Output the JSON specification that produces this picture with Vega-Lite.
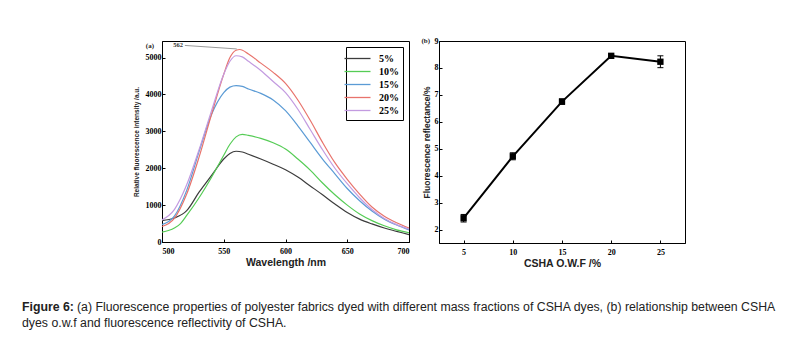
{
  "$schema": "https://vega.github.io/schema/vega-lite/v6.json",
  "background": "white",
  "padding": {"left": 22, "top": 36, "right": 5, "bottom": 5},
  "config": {
    "view": {"stroke": "black", "strokeWidth": 1},
    "axis": {
      "grid": false,
      "domainColor": "black",
      "tickColor": "black",
      "tickSize": -3,
      "labelFont": "Liberation Serif",
      "labelFontWeight": "bold",
      "labelFontSize": 8,
      "labelColor": "black",
      "labelPadding": 4,
      "labelOverlap": false,
      "titleFont": "Liberation Sans",
      "titleFontWeight": "bold",
      "titleColor": "#222222"
    },
    "axisX": {"labelPadding": 8}
  },
  "datasets": {
    "spectra": [
      {"w":500,"v":580,"s":"5%"},{"w":510,"v":650,"s":"5%"},{"w":520,"v":850,"s":"5%"},{"w":530,"v":1350,"s":"5%"},{"w":540,"v":1800,"s":"5%"},{"w":550,"v":2250,"s":"5%"},{"w":555,"v":2400,"s":"5%"},{"w":560,"v":2460,"s":"5%"},{"w":565,"v":2440,"s":"5%"},{"w":570,"v":2380,"s":"5%"},{"w":580,"v":2250,"s":"5%"},{"w":590,"v":2110,"s":"5%"},{"w":600,"v":1960,"s":"5%"},{"w":610,"v":1760,"s":"5%"},{"w":620,"v":1520,"s":"5%"},{"w":630,"v":1280,"s":"5%"},{"w":640,"v":1030,"s":"5%"},{"w":650,"v":800,"s":"5%"},{"w":660,"v":620,"s":"5%"},{"w":670,"v":490,"s":"5%"},{"w":680,"v":380,"s":"5%"},{"w":690,"v":290,"s":"5%"},{"w":700,"v":200,"s":"5%"},
      {"w":500,"v":270,"s":"10%"},{"w":510,"v":380,"s":"10%"},{"w":515,"v":500,"s":"10%"},{"w":520,"v":720,"s":"10%"},{"w":530,"v":1200,"s":"10%"},{"w":540,"v":1750,"s":"10%"},{"w":550,"v":2350,"s":"10%"},{"w":555,"v":2650,"s":"10%"},{"w":560,"v":2850,"s":"10%"},{"w":565,"v":2920,"s":"10%"},{"w":570,"v":2890,"s":"10%"},{"w":580,"v":2810,"s":"10%"},{"w":590,"v":2690,"s":"10%"},{"w":600,"v":2520,"s":"10%"},{"w":610,"v":2250,"s":"10%"},{"w":620,"v":1950,"s":"10%"},{"w":630,"v":1600,"s":"10%"},{"w":640,"v":1280,"s":"10%"},{"w":650,"v":1000,"s":"10%"},{"w":660,"v":760,"s":"10%"},{"w":670,"v":580,"s":"10%"},{"w":680,"v":440,"s":"10%"},{"w":690,"v":330,"s":"10%"},{"w":700,"v":250,"s":"10%"},
      {"w":500,"v":470,"s":"15%"},{"w":510,"v":700,"s":"15%"},{"w":520,"v":1400,"s":"15%"},{"w":530,"v":2450,"s":"15%"},{"w":540,"v":3450,"s":"15%"},{"w":550,"v":4050,"s":"15%"},{"w":555,"v":4200,"s":"15%"},{"w":560,"v":4240,"s":"15%"},{"w":565,"v":4220,"s":"15%"},{"w":570,"v":4150,"s":"15%"},{"w":580,"v":4030,"s":"15%"},{"w":590,"v":3850,"s":"15%"},{"w":600,"v":3560,"s":"15%"},{"w":610,"v":3150,"s":"15%"},{"w":620,"v":2700,"s":"15%"},{"w":630,"v":2250,"s":"15%"},{"w":640,"v":1850,"s":"15%"},{"w":650,"v":1450,"s":"15%"},{"w":660,"v":1120,"s":"15%"},{"w":670,"v":840,"s":"15%"},{"w":680,"v":620,"s":"15%"},{"w":690,"v":460,"s":"15%"},{"w":700,"v":330,"s":"15%"},
      {"w":500,"v":420,"s":"20%"},{"w":510,"v":640,"s":"20%"},{"w":520,"v":1300,"s":"20%"},{"w":530,"v":2300,"s":"20%"},{"w":540,"v":3450,"s":"20%"},{"w":550,"v":4550,"s":"20%"},{"w":555,"v":5000,"s":"20%"},{"w":560,"v":5200,"s":"20%"},{"w":563,"v":5220,"s":"20%"},{"w":570,"v":5100,"s":"20%"},{"w":580,"v":4850,"s":"20%"},{"w":590,"v":4600,"s":"20%"},{"w":600,"v":4300,"s":"20%"},{"w":610,"v":3850,"s":"20%"},{"w":620,"v":3300,"s":"20%"},{"w":630,"v":2700,"s":"20%"},{"w":640,"v":2150,"s":"20%"},{"w":650,"v":1700,"s":"20%"},{"w":660,"v":1300,"s":"20%"},{"w":670,"v":950,"s":"20%"},{"w":680,"v":700,"s":"20%"},{"w":690,"v":520,"s":"20%"},{"w":700,"v":380,"s":"20%"},
      {"w":500,"v":600,"s":"25%"},{"w":510,"v":880,"s":"25%"},{"w":520,"v":1550,"s":"25%"},{"w":530,"v":2500,"s":"25%"},{"w":540,"v":3550,"s":"25%"},{"w":550,"v":4550,"s":"25%"},{"w":555,"v":4900,"s":"25%"},{"w":560,"v":5050,"s":"25%"},{"w":565,"v":5020,"s":"25%"},{"w":570,"v":4900,"s":"25%"},{"w":580,"v":4650,"s":"25%"},{"w":590,"v":4350,"s":"25%"},{"w":600,"v":4050,"s":"25%"},{"w":610,"v":3600,"s":"25%"},{"w":620,"v":3050,"s":"25%"},{"w":630,"v":2500,"s":"25%"},{"w":640,"v":2000,"s":"25%"},{"w":650,"v":1580,"s":"25%"},{"w":660,"v":1200,"s":"25%"},{"w":670,"v":880,"s":"25%"},{"w":680,"v":640,"s":"25%"},{"w":690,"v":470,"s":"25%"},{"w":700,"v":350,"s":"25%"}
    ],
    "refl": [
      {"c":5,"r":2.42,"lo":2.28,"hi":2.56},
      {"c":10,"r":4.72,"lo":4.59,"hi":4.85},
      {"c":15,"r":6.75,"lo":6.65,"hi":6.85},
      {"c":20,"r":8.45,"lo":8.42,"hi":8.48},
      {"c":25,"r":8.23,"lo":8.01,"hi":8.45}
    ]
  },
  "resolve": {"scale": {"color": "independent"}, "legend": {"color": "independent"}},
  "vconcat": [
    {
      "resolve": {"scale": {"color": "independent"}, "legend": {"color": "independent"}},
      "hconcat": [
        {
          "width": 102,
          "height": 10,
          "view": {"stroke": null},
          "data": {"values": []},
          "mark": {"type": "point", "opacity": 0},
          "encoding": {}
        },
        {
          "width": 247,
          "height": 201,
          "layer": [
            {
              "data": {"name": "spectra"},
              "mark": {"type": "line", "interpolate": "monotone", "strokeWidth": 1.2},
              "encoding": {
                "x": {"field": "w", "type": "quantitative", "scale": {"domain": [500, 700], "nice": false},
                      "axis": {"values": [500, 550, 600, 650, 700], "title": "Wavelength /nm", "titleFontSize": 10.5, "titlePadding": 2}},
                "y": {"field": "v", "type": "quantitative", "scale": {"domain": [0, 5450], "nice": false},
                      "axis": {"values": [0, 1000, 2000, 3000, 4000, 5000], "format": "d", "title": "Relative fluorescence intensity /a.u.", "titleFontSize": 6.5, "titlePadding": 6}},
                "color": {"field": "s", "type": "nominal",
                          "scale": {"domain": ["5%", "10%", "15%", "20%", "25%"], "range": ["#3c3c3c", "#55cc55", "#5b9bd5", "#e8736c", "#c39be0"]},
                          "legend": {"orient": "top-right", "offset": 6, "title": null, "strokeColor": "black", "fillColor": "white", "padding": 4,
                                     "symbolType": "M-2,0H2", "symbolSize": 169, "symbolStrokeWidth": 1.3, "rowPadding": 0, "labelOffset": 14,
                                     "labelFont": "Liberation Serif", "labelFontSize": 10, "labelFontWeight": "bold", "labelColor": "black"}}
              }
            },
            {
              "data": {"values": [{"x": 518.5, "y": 5330, "x2": 560.5, "y2": 5235}]},
              "mark": {"type": "rule", "strokeWidth": 0.6, "color": "#555555"},
              "encoding": {
                "x": {"field": "x", "type": "quantitative"},
                "y": {"field": "y", "type": "quantitative"},
                "x2": {"field": "x2"},
                "y2": {"field": "y2"}
              }
            },
            {
              "data": {"values": [{"x": 513, "y": 5330, "t": "562"}]},
              "mark": {"type": "text", "font": "Liberation Serif", "fontSize": 6.5, "fontWeight": "bold", "color": "#333333"},
              "encoding": {
                "x": {"field": "x", "type": "quantitative"},
                "y": {"field": "y", "type": "quantitative"},
                "text": {"field": "t"}
              }
            },
            {
              "data": {"values": [{"x": 500, "y": 5310, "t": "(a)"}]},
              "mark": {"type": "text", "font": "Liberation Serif", "fontSize": 7, "fontWeight": "bold", "align": "right", "dx": -8, "color": "#222222"},
              "encoding": {
                "x": {"field": "x", "type": "quantitative"},
                "y": {"field": "y", "type": "quantitative"},
                "text": {"field": "t"}
              }
            }
          ]
        },
        {
          "width": 246,
          "height": 202,
          "data": {"name": "refl"},
          "encoding": {
            "x": {"type": "quantitative", "scale": {"domain": [2.5, 27.5], "nice": false},
                  "axis": {"values": [5, 10, 15, 20, 25], "title": "CSHA O.W.F /%", "titleFontSize": 10.5, "titlePadding": 2, "labelOverlap": false}},
            "y": {"type": "quantitative", "scale": {"domain": [1.5, 9], "nice": false, "zero": false},
                  "axis": {"values": [2, 3, 4, 5, 6, 7, 8, 9], "format": "d", "labelOverlap": false, "title": "Fluorescence reflectance/%", "titleFontSize": 8.5, "titlePadding": 3}}
          },
          "layer": [
            {
              "mark": {"type": "rule", "color": "black", "strokeWidth": 1},
              "encoding": {
                "x": {"field": "c", "type": "quantitative"},
                "y": {"field": "lo", "type": "quantitative"},
                "y2": {"field": "hi"}
              }
            },
            {
              "mark": {"type": "tick", "orient": "horizontal", "color": "black", "size": 6, "thickness": 1, "opacity": 1},
              "encoding": {
                "x": {"field": "c", "type": "quantitative"},
                "y": {"field": "lo", "type": "quantitative"}
              }
            },
            {
              "mark": {"type": "tick", "orient": "horizontal", "color": "black", "size": 6, "thickness": 1, "opacity": 1},
              "encoding": {
                "x": {"field": "c", "type": "quantitative"},
                "y": {"field": "hi", "type": "quantitative"}
              }
            },
            {
              "mark": {"type": "line", "color": "black", "strokeWidth": 2},
              "encoding": {
                "x": {"field": "c", "type": "quantitative"},
                "y": {"field": "r", "type": "quantitative"}
              }
            },
            {
              "mark": {"type": "point", "shape": "square", "filled": true, "color": "black", "size": 40, "opacity": 1},
              "encoding": {
                "x": {"field": "c", "type": "quantitative"},
                "y": {"field": "r", "type": "quantitative"}
              }
            },
            {
              "data": {"values": [{"c": 2.5, "r": 9, "t": "(b)"}]},
              "mark": {"type": "text", "font": "Liberation Serif", "fontSize": 7, "fontWeight": "bold", "align": "right", "dx": -9, "color": "#222222"},
              "encoding": {
                "x": {"field": "c", "type": "quantitative"},
                "y": {"field": "r", "type": "quantitative"},
                "text": {"field": "t"}
              }
            }
          ]
        }
      ],
      "spacing": 8
    },
    {
      "width": 600,
      "height": 32,
      "view": {"stroke": null},
      "layer": [
        {
          "data": {"values": [{"p": 0, "line": 1, "t": "Figure 6:"}]},
          "mark": {"type": "text", "align": "left", "baseline": "middle", "font": "Liberation Sans", "fontSize": 12.3, "fontWeight": "bold", "color": "#222222"},
          "encoding": {
            "x": {"field": "p", "type": "quantitative", "scale": {"domain": [0, 1]}, "axis": null},
            "y": {"field": "line", "type": "ordinal", "scale": {"domain": [1, 2]}, "axis": null},
            "text": {"field": "t"}
          }
        },
        {
          "data": {"values": [
            {"p": 0, "line": 1, "t": "(a) Fluorescence properties of polyester fabrics dyed with different mass fractions of CSHA dyes, (b) relationship between CSHA"}
          ]},
          "mark": {"type": "text", "align": "left", "baseline": "middle", "font": "Liberation Sans", "fontSize": 12.3, "color": "#222222", "dx": 55},
          "encoding": {
            "x": {"field": "p", "type": "quantitative", "scale": {"domain": [0, 1]}, "axis": null},
            "y": {"field": "line", "type": "ordinal", "scale": {"domain": [1, 2]}, "axis": null},
            "text": {"field": "t"}
          }
        },
        {
          "data": {"values": [
            {"p": 0, "line": 2, "t": "dyes o.w.f and fluorescence reflectivity of CSHA."}
          ]},
          "mark": {"type": "text", "align": "left", "baseline": "middle", "font": "Liberation Sans", "fontSize": 12.3, "color": "#222222"},
          "encoding": {
            "x": {"field": "p", "type": "quantitative", "scale": {"domain": [0, 1]}, "axis": null},
            "y": {"field": "line", "type": "ordinal", "scale": {"domain": [1, 2]}, "axis": null},
            "text": {"field": "t"}
          }
        }
      ]
    }
  ],
  "spacing": 30
}
